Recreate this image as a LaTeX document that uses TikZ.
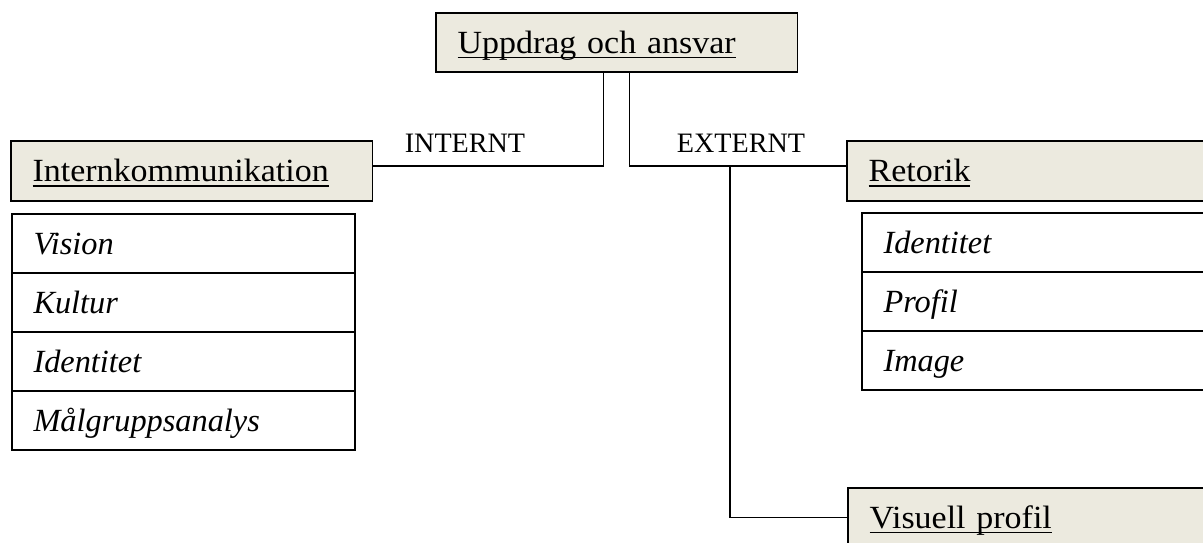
\documentclass[tikz,border=0pt]{standalone}
\usepackage{fontspec}
\setmainfont{Liberation Serif}
\newfontfamily\headfont{Liberation Serif}[FakeStretch=1.05]
\usetikzlibrary{positioning}
\definecolor{headfill}{RGB}{236,234,223}
\newcommand{\undl}[1]{\mbox{\setbox0\hbox{#1}\rlap{\vrule width\wd0 height-2.6pt depth3.6pt}\box0}}
\tikzset{
  headbox/.style={draw, line width=1.1pt, fill=headfill, anchor=north west,
    minimum width=9.025cm, minimum height=1.5cm, text width=7.95cm,
    inner xsep=0.54cm, align=left, text height=15pt, text depth=0pt,
    font=\headfont\fontsize{23}{27}\selectfont, outer sep=0pt},
  itembox/.style={draw, line width=1.1pt, fill=white,
    minimum width=8.575cm, minimum height=1.475cm, text width=7.5cm,
    inner xsep=0.525cm, align=left, text height=15pt, text depth=0pt,
    font=\fontsize{23}{27}\selectfont\itshape, outer sep=0pt},
  side/.style={font=\fontsize{20}{24}\selectfont, text height=13pt, text depth=0pt, inner sep=0pt},
  link/.style={line width=0.9pt}
}
\begin{document}
\begin{tikzpicture}[x=0.025cm,y=-0.025cm]
\useasboundingbox (0,0) rectangle (1203,542);
\clip (0,0) rectangle (1203,542);
%% Heads
\node[headbox, minimum height=1.475cm](top) at (436,13) {\undl{Uppdrag och ansvar}};
\node[headbox](intern) at (11,141) {\undl{Internkommunikation}};
\node[headbox](retorik) at (847,141) {\undl{Retorik}};
\node[headbox, minimum height=1.475cm](visuell) at (848,488) {\undl{Visuell profil}};
%% Lists
\node[itembox, anchor=north west](vision) at ([xshift=0.025cm, yshift=-0.325cm]intern.south west) {Vision};
\node[itembox, below=0pt of vision](kultur) {Kultur};
\node[itembox, below=0pt of kultur](identL) {Identitet};
\node[itembox, below=0pt of identL](malgrupp) {Målgruppsanalys};
\node[itembox, anchor=north west](identR) at ([xshift=0.375cm, yshift=-0.3cm]retorik.south west) {Identitet};
\node[itembox, below=0pt of identR](profil) {Profil};
\node[itembox, below=0pt of profil](image) {Image};
%% Labels
\node[side](internt) at (465,143) {INTERNT};
\node[side](externt) at (741,143) {EXTERNT};
%% Lines
\coordinate (split) at (730,166);
\draw[link] ([xshift=-0.3375cm]top.south) |- ([yshift=0.125cm]intern.east);
\draw[link] ([xshift=0.3125cm]top.south) |- ([yshift=0.125cm]retorik.west);
\draw[link] (split) |- (visuell.west);
\end{tikzpicture}
\end{document}
